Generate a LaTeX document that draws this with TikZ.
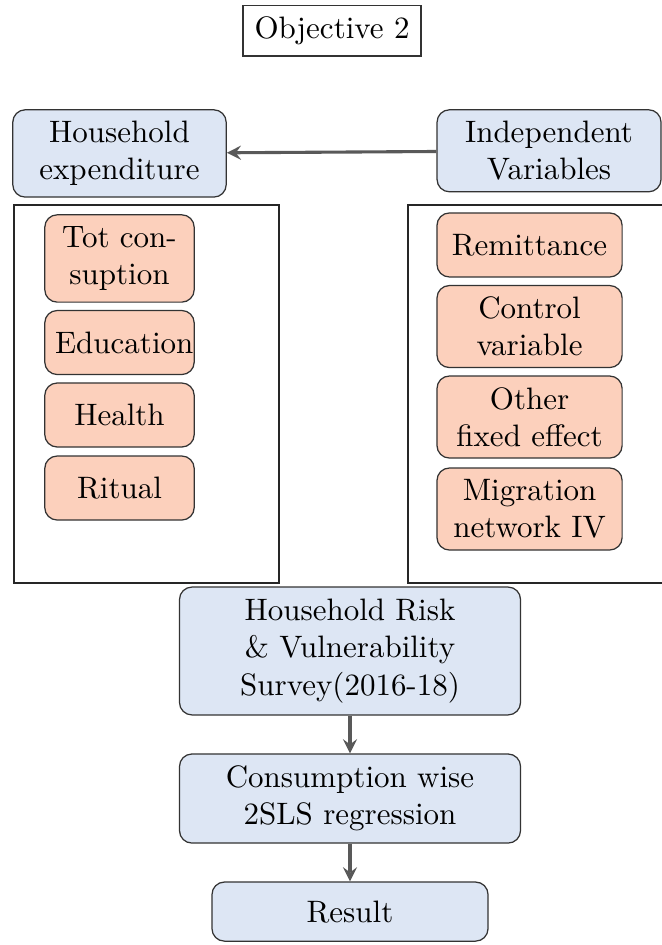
\documentclass[tikz,border=0pt]{standalone}
\usetikzlibrary{positioning}

\definecolor{lightblue}{RGB}{221,230,244}
\definecolor{peach}{RGB}{252,208,188}

\tikzset{
    bluebox/.style={draw=black!80, rounded corners, fill=lightblue, align=center},
    peachbox/.style={draw=black!80, rounded corners, fill=peach, align=center},
    flow/.style={->, >=stealth, line width=1pt, black!65},
}

\begin{document}
\begin{tikzpicture}
        \useasboundingbox (0,0) rectangle (7.496,-10.716);

        \node [draw=black!80, minimum width=2.02cm, minimum height=0.57cm] (obj) at (3.765,-0.35) {Objective 2};

        \node [bluebox, minimum width=2.42cm, minimum height=0.99cm] (hh) at (1.355,-1.74) {Household\\expenditure};
        \node [bluebox, minimum width=2.54cm, minimum height=0.93cm] (indep) at (6.226,-1.71) {Independent\\Variables};

        \draw [black!85] (0.159,-2.325) rectangle (3.164,-6.611);
        \draw [black!85] (4.627,-2.325) rectangle (7.9,-6.611);

        \node [peachbox, text width=1.46cm, minimum height=0.99cm] (tot) at (1.355,-2.931) {Tot con-\\suption};
        \node [peachbox, text width=1.46cm, minimum height=0.726cm] (edu) at (1.355,-3.884) {Education};
        \node [peachbox, text width=1.46cm, minimum height=0.726cm] (health) at (1.355,-4.706) {Health};
        \node [peachbox, text width=1.46cm, minimum height=0.726cm] (ritual) at (1.355,-5.534) {Ritual};

        \node [peachbox, text width=1.865cm, minimum height=0.726cm] (remit) at (6.005,-2.778) {Remittance};
        \node [peachbox, text width=1.865cm, minimum height=0.93cm] (control) at (6.005,-3.703) {Control\\variable};
        \node [peachbox, text width=1.865cm, minimum height=0.93cm] (fixed) at (6.005,-4.729) {Other\\fixed effect};
        \node [peachbox, text width=1.865cm, minimum height=0.93cm] (iv) at (6.005,-5.772) {Migration\\network IV};

        \node [bluebox, minimum width=3.867cm, minimum height=1.45cm] (survey) at (3.969,-7.382) {Household Risk\\\& Vulnerability\\Survey(2016-18)};
        \node [bluebox, minimum width=3.867cm, minimum height=1.01cm] (reg) at (3.969,-9.055) {Consumption wise\\2SLS regression};
        \node [bluebox, minimum width=3.13cm, minimum height=0.67cm] (result) at (3.969,-10.337) {Result};

        \draw [flow] (indep) -- (hh);
        \draw [flow] (survey) -- (reg);
        \draw [flow] (reg) -- (result);
    \end{tikzpicture}
\end{document}
